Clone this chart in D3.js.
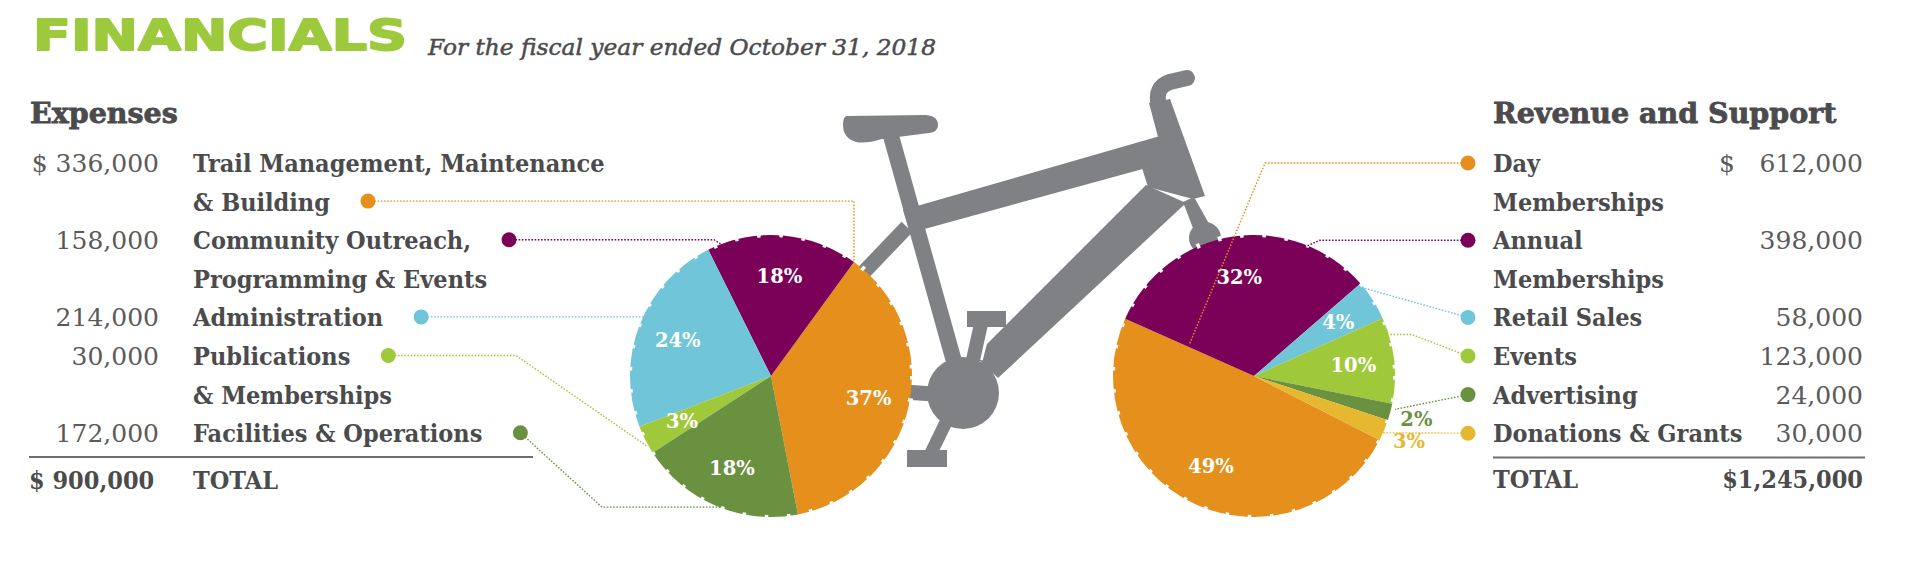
<!DOCTYPE html>
<html><head><meta charset="utf-8">
<script src="https://cdn.jsdelivr.net/npm/d3@7"></script>
<style>
body{margin:0;background:#fff;}
svg{display:block}
</style></head><body>
<svg id="chart" width="1920" height="565"></svg>
<script>
// ---------- data ----------
const expenseLabels = [["Trail Management, Maintenance","& Building"],["Community Outreach,","Programming & Events"],["Administration"],["Publications","& Memberships"],["Facilities & Operations"]];
const expenseValues = [336000,158000,214000,30000,172000];
const expensePct = ["37%","18%","24%","3%","18%"];
const expenseColors = ["#e5901c","#7a0058","#70c5d8","#9fc93b","#6a9140"];
const expenseTotal = "$ 900,000";

const revenueLabels = [["Day","Memberships"],["Annual","Memberships"],["Retail Sales"],["Events"],["Advertising"],["Donations & Grants"]];
const revenueValues = [612000,398000,58000,123000,24000,30000];
const revenuePct = ["49%","32%","4%","10%","2%","3%"];
const revenueColors = ["#e5901c","#7a0058","#70c5d8","#9fc93b","#6a9140","#e6b830"];
const revenueTotal = "$1,245,000";

const titleText = "FINANCIALS";
const subtitleText = "For the fiscal year ended October 31, 2018";
const expenseHeading = "Expenses";
const revenueHeading = "Revenue and Support";
const totalWord = "TOTAL";

// ---------- layout ----------
const svg = d3.select("#chart");
const R = 141;
const leftC = [771, 376], rightC = [1254, 376];
const rowY = i => 172 + i * 38.6;
const deg = Math.PI / 180;
const TEXT = "#4b4b4d", NUM = "#5a5a5c", BIKE = "#808184";
const slab = "'DejaVu Serif Condensed','DejaVu Serif',serif";
const fmt = d3.format(",");
const leftDotLine = [1, 0, 0, 0, 0];   // which label line carries the legend dot

// title
svg.append("text").attr("x", 33).attr("y", 50)
  .attr("font-family", "'DejaVu Sans',sans-serif").attr("font-weight", "bold")
  .attr("font-size", 42).attr("fill", "#9dc93c")
  .attr("stroke", "#9dc93c").attr("stroke-width", 1.8).attr("stroke-linejoin", "round")
  .attr("textLength", 374).attr("lengthAdjust", "spacingAndGlyphs")
  .text(titleText);
svg.append("text").attr("x", 428).attr("y", 55)
  .attr("font-family", "'DejaVu Serif',serif").attr("font-style", "italic")
  .attr("font-size", 23).attr("fill", TEXT)
  .attr("stroke", TEXT).attr("stroke-width", 0.5)
  .attr("textLength", 508).attr("lengthAdjust", "spacingAndGlyphs")
  .text(subtitleText);

// headings
svg.append("text").attr("x", 30).attr("y", 123)
  .attr("font-family", "'DejaVu Serif',serif").attr("font-weight", "bold")
  .attr("font-size", 28.5).attr("fill", TEXT).attr("stroke", TEXT).attr("stroke-width", 0.8)
  .text(expenseHeading);
svg.append("text").attr("x", 1493).attr("y", 123)
  .attr("font-family", "'DejaVu Serif',serif").attr("font-weight", "bold")
  .attr("font-size", 28.5).attr("fill", TEXT).attr("stroke", TEXT).attr("stroke-width", 0.8)
  .text(revenueHeading);

// ---------- bike (decoration) ----------
const bike = svg.append("g").attr("fill", BIKE);
bike.append("path").attr("d", "M847,116 L926,115 Q938,116 938,125 Q938,132 929,133 L882,139 Q866,144 856,142 Q843,138 843,125 Q843,116 847,116 Z");
bike.append("line").attr("x1", 891).attr("y1", 136).attr("x2", 962).attr("y2", 390).attr("stroke", BIKE).attr("stroke-width", 16);
bike.append("path").attr("d", "M903,210 L1160,136 L1150,167 L910,233 Z");
bike.append("path").attr("d", "M1149,103 L1170,99 L1205,196 L1193,199 L1148,187 L1142,168 L1158,137 Z");
bike.append("path").attr("d", "M1146,185 L1186,203 L998,378 L975,356 Z");
bike.append("path").attr("d", "M1183,202 L1194,197 L1212,229 L1196,236 Z");
bike.append("circle").attr("cx", 1205).attr("cy", 238).attr("r", 16);
bike.append("path").attr("d", "M1159,106 Q1154,87 1170,82 L1187,78").attr("fill", "none")
  .attr("stroke", BIKE).attr("stroke-width", 16).attr("stroke-linecap", "round");
bike.append("line").attr("x1", 907).attr("y1", 227).attr("x2", 862).attr("y2", 274).attr("stroke", BIKE).attr("stroke-width", 15);
bike.append("line").attr("x1", 890).attr("y1", 391).attr("x2", 962).attr("y2", 396).attr("stroke", BIKE).attr("stroke-width", 15);
bike.append("circle").attr("cx", 963).attr("cy", 393).attr("r", 36);
bike.append("line").attr("x1", 973).attr("y1", 358).attr("x2", 981).attr("y2", 326).attr("stroke", "#fff").attr("stroke-width", 20);
bike.append("line").attr("x1", 973).attr("y1", 360).attr("x2", 981).attr("y2", 324).attr("stroke", BIKE).attr("stroke-width", 14);
bike.append("rect").attr("x", 967).attr("y", 311).attr("width", 39).attr("height", 16);
bike.append("line").attr("x1", 948).attr("y1", 418).attr("x2", 931).attr("y2", 453).attr("stroke", BIKE).attr("stroke-width", 13);
bike.append("rect").attr("x", 907).attr("y", 450).attr("width", 40).attr("height", 17);

// ---------- pies ----------
const arc = d3.arc().innerRadius(0).outerRadius(R);
function drawPie(center, values, colors, pcts, a0, a1) {
  const pie = d3.pie().sort(null).value(d => d).startAngle(a0 * deg).endAngle(a1 * deg);
  const arcs = pie(values);
  const total = d3.sum(values);
  const g = svg.append("g").attr("transform", `translate(${center[0]},${center[1]})`);
  g.selectAll("path.slice").data(arcs).join("path").attr("class", "slice")
    .attr("d", arc).attr("fill", (d, i) => colors[i]);
  g.append("circle").attr("r", R + 0.5).attr("fill", "none").attr("stroke", "#fff")
    .attr("stroke-width", 5).attr("stroke-dasharray", "3.5 19");
  g.selectAll("text.pct").data(arcs).join("text").attr("class", "pct")
    .each(function (d, i) {
      const mid = (d.startAngle + d.endAngle) / 2;
      const outside = d.value / total < 0.03;
      const rr = outside ? 168 : 100;
      d3.select(this).attr("x", rr * Math.sin(mid)).attr("y", -rr * Math.cos(mid))
        .attr("fill", outside ? colors[i] : "#fff");
    })
    .attr("dy", "0.36em").attr("text-anchor", "middle")
    .attr("font-family", "'DejaVu Serif',serif").attr("font-weight", "bold")
    .attr("font-size", 19.5).text((d, i) => pcts[i]);
  return arcs;
}
const leftArcs = drawPie(leftC, expenseValues, expenseColors, expensePct, 169, 169 - 360);
const rightArcs = drawPie(rightC, revenueValues, revenueColors, revenuePct, 117, 117 + 360);

function rim(center, angDeg, r) {
  return [center[0] + r * Math.sin(angDeg * deg), center[1] - r * Math.cos(angDeg * deg)];
}

// ---------- left table ----------
const left = svg.append("g");
let row = 0;
const leftDots = [];
expenseLabels.forEach((lines, i) => {
  const numTxt = (i === 0 ? "$ " : "") + fmt(expenseValues[i]);
  left.append("text").attr("x", 159).attr("y", rowY(row)).attr("text-anchor", "end")
    .attr("font-family", "'DejaVu Serif',serif").attr("font-size", 25).attr("fill", NUM).text(numTxt);
  const nodes = lines.map((ln, j) => left.append("text").attr("x", 193).attr("y", rowY(row + j))
      .attr("font-family", slab).attr("font-stretch", "condensed").attr("font-weight", "bold")
      .attr("font-size", 25).attr("fill", TEXT).text(ln));
  const k = leftDotLine[i];
  const endX = 193 + nodes[k].node().getComputedTextLength();
  leftDots.push([endX + 38, rowY(row + k) - 9.5]);
  row += lines.length;
});
left.append("line").attr("x1", 29).attr("x2", 533).attr("y1", 457).attr("y2", 457)
  .attr("stroke", "#6d6e70").attr("stroke-width", 2);
left.append("text").attr("x", 29).attr("y", 489)
  .attr("font-family", slab).attr("font-stretch", "condensed").attr("font-weight", "bold")
  .attr("font-size", 25).attr("fill", TEXT).text(expenseTotal);
left.append("text").attr("x", 193).attr("y", 489)
  .attr("font-family", slab).attr("font-stretch", "condensed").attr("font-weight", "bold")
  .attr("font-size", 25).attr("fill", TEXT).text(totalWord);

// ---------- right table ----------
const right = svg.append("g");
row = 0;
const rightDots = [];
revenueLabels.forEach((lines, i) => {
  lines.forEach((ln, j) => {
    right.append("text").attr("x", 1493).attr("y", rowY(row + j))
      .attr("font-family", slab).attr("font-stretch", "condensed").attr("font-weight", "bold")
      .attr("font-size", 25).attr("fill", TEXT).text(ln);
  });
  right.append("text").attr("x", 1863).attr("y", rowY(row)).attr("text-anchor", "end")
    .attr("font-family", "'DejaVu Serif',serif").attr("font-size", 25).attr("fill", NUM).text(fmt(revenueValues[i]));
  if (i === 0) {
    right.append("text").attr("x", 1719).attr("y", rowY(row))
      .attr("font-family", "'DejaVu Serif',serif").attr("font-size", 25).attr("fill", NUM).text("$");
  }
  rightDots.push([1468, rowY(row) - 9]);
  row += lines.length;
});
right.append("line").attr("x1", 1493).attr("x2", 1865).attr("y1", 457.5).attr("y2", 457.5)
  .attr("stroke", "#6d6e70").attr("stroke-width", 2);
right.append("text").attr("x", 1493).attr("y", 488)
  .attr("font-family", slab).attr("font-stretch", "condensed").attr("font-weight", "bold")
  .attr("font-size", 25).attr("fill", TEXT).text(totalWord);
right.append("text").attr("x", 1863).attr("y", 488).attr("text-anchor", "end")
  .attr("font-family", slab).attr("font-stretch", "condensed").attr("font-weight", "bold")
  .attr("font-size", 25).attr("fill", TEXT).text(revenueTotal);

// ---------- leaders ----------
const leftTargets = [
  rim(leftC, leftArcs[0].endAngle / deg, R),
  rim(leftC, -20.5, 140),
  rim(leftC, -65, 140),
  rim(leftC, -120, 142),
  rim(leftC, -159.5, 140)
];
const leftRoutes = [
  (d, t) => [d, [t[0], d[1]], t],
  (d, t) => [d, [t[0] - 8, d[1]], t],
  (d, t) => [d, [t[0], d[1]], t],
  (d, t) => [d, [t[0] - 132, d[1]], t],
  (d, t) => [d, [t[0] - 120, t[1]], t]
];
const rightTargets = [
  rim(rightC, 295.6, 72),
  rim(rightC, 21.2, 138),
  rim(rightC, 49.7, 138),
  rim(rightC, 73, 142),
  rim(rightC, 103.3, 145),
  rim(rightC, 114.3, 138)
];
const rightRoutes = [
  (d, t) => [d, [t[0] + 76, d[1]], t],
  (d, t) => [d, [t[0] + 16, d[1]], t],
  (d, t) => [d, t],
  (d, t) => [d, [t[0] + 22, t[1]], t],
  (d, t) => [d, t],
  (d, t) => [d, t]
];
const line = d3.line();
const lg = svg.append("g");
leftDots.forEach((d, i) => {
  lg.append("path").attr("d", line(leftRoutes[i](d, leftTargets[i]))).attr("fill", "none")
    .attr("stroke", expenseColors[i]).attr("stroke-width", 1.4).attr("stroke-dasharray", "1.6 1.6");
  lg.append("circle").attr("cx", d[0]).attr("cy", d[1]).attr("r", 7.5).attr("fill", expenseColors[i]);
});
rightDots.forEach((d, i) => {
  lg.append("path").attr("d", line(rightRoutes[i](d, rightTargets[i]))).attr("fill", "none")
    .attr("stroke", revenueColors[i]).attr("stroke-width", 1.4).attr("stroke-dasharray", "1.6 1.6");
  lg.append("circle").attr("cx", d[0]).attr("cy", d[1]).attr("r", 7.5).attr("fill", revenueColors[i]);
});
</script>
</body></html>
